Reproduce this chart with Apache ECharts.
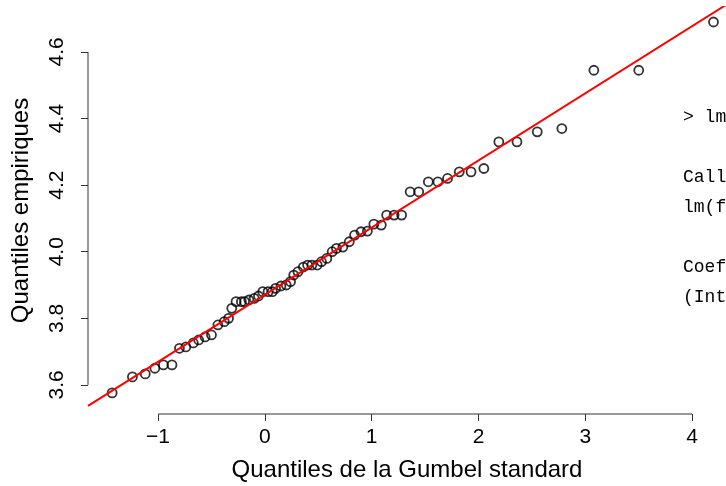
<!DOCTYPE html>
<html><head><meta charset="utf-8">
<script src="https://cdn.jsdelivr.net/npm/echarts@6/dist/echarts.min.js"></script>
<style>html,body{margin:0;padding:0;background:#fff}#c{width:726px;height:486px}</style>
</head><body><div id="c"></div>
<script>
const gumbelQ = [-1.43,-1.24,-1.12,-1.03,-0.95,-0.87,-0.80,-0.74,-0.67,-0.62,-0.56,-0.50,-0.44,-0.38,-0.34,-0.31,-0.27,-0.22,-0.19,-0.15,-0.10,-0.06,-0.02,0.03,0.07,0.10,0.15,0.20,0.24,0.27,0.31,0.36,0.40,0.44,0.49,0.53,0.58,0.63,0.67,0.73,0.79,0.84,0.90,0.96,1.02,1.09,1.14,1.21,1.28,1.36,1.44,1.53,1.62,1.71,1.82,1.93,2.05,2.19,2.36,2.55,2.78,3.08,3.50,4.20];
const empQ = [3.576,3.624,3.633,3.65,3.66,3.66,3.71,3.714,3.726,3.735,3.744,3.75,3.78,3.79,3.80,3.83,3.85,3.85,3.85,3.855,3.86,3.867,3.88,3.88,3.88,3.89,3.897,3.90,3.91,3.93,3.94,3.954,3.96,3.96,3.96,3.97,3.98,4.00,4.01,4.014,4.03,4.05,4.06,4.062,4.083,4.08,4.11,4.11,4.11,4.18,4.18,4.21,4.21,4.22,4.24,4.24,4.25,4.33,4.33,4.36,4.37,4.545,4.545,4.69];
const xTicks = [-1,0,1,2,3,4];
const yTicks = [3.6,3.8,4.0,4.2,4.4,4.6];
const fitCoef = [3.871, 0.2016]; // intercept, slope
const consoleLines = ["> lm(formula = y ~ x)", "", "Call:", "lm(formula = y ~ x)", "", "Coefficients:", "(Intercept)            x"];

const X_MIN = -1.656, X_MAX = 4.317, Y_MIN = 3.5126, Y_MAX = 4.735;
const pts = gumbelQ.map((x,i)=>[x, empQ[i]]);
const fitLine = [X_MIN, X_MAX].map(x=>[x, fitCoef[0] + fitCoef[1]*x]);
const FONT = '"Liberation Sans", Arial, sans-serif';
const AX = '#333';
const chart = echarts.init(document.getElementById('c'));
chart.setOption({
  animation:false,
  backgroundColor:'#fff',
  grid:{left:88,right:0,top:7,bottom:72,containLabel:false,outerBoundsMode:'none'},
  xAxis:{type:'value',min:X_MIN,max:X_MAX,
    name:'Quantiles de la Gumbel standard',nameLocation:'middle',nameGap:44,
    nameTextStyle:{fontFamily:FONT,fontSize:24,color:'#000'},
    axisLine:{show:false,onZero:false},splitLine:{show:false},
    axisTick:{show:true,length:7,customValues:xTicks,lineStyle:{color:AX,width:1}},
    axisLabel:{customValues:xTicks,margin:13,fontFamily:FONT,fontSize:21,color:'#000',
      formatter:v=>String(v).replace('-','\u2212')}},
  yAxis:{type:'value',min:Y_MIN,max:Y_MAX,
    name:'Quantiles empiriques',nameLocation:'middle',nameGap:55,
    nameTextStyle:{fontFamily:FONT,fontSize:24,color:'#000'},
    axisLine:{show:false,onZero:false},splitLine:{show:false},
    axisTick:{show:true,length:7,customValues:yTicks,lineStyle:{color:AX,width:1}},
    axisLabel:{customValues:yTicks,rotate:90,margin:20,fontFamily:FONT,fontSize:21,color:'#000',
      formatter:v=>v.toFixed(1)}},
  series:[
    {type:'line',data:[[xTicks[0],Y_MIN],[xTicks[xTicks.length-1],Y_MIN]],clip:false,symbol:'none',silent:true,
      lineStyle:{color:AX,width:1}},
    {type:'line',data:[[X_MIN,yTicks[0]],[X_MIN,yTicks[yTicks.length-1]]],clip:false,symbol:'none',silent:true,
      lineStyle:{color:AX,width:1}},
    {type:'scatter',data:pts,symbol:'circle',symbolSize:9,
      itemStyle:{color:'rgba(255,255,255,0)',borderColor:'#000',borderWidth:1.8}},
    {type:'line',data:fitLine,symbol:'none',clip:true,lineStyle:{color:'#ff0000',width:2}}
  ],
  graphic: consoleLines.map((t,i)=>({type:'text',left:683,top:108+i*30,
    style:{text:t,font:'18px "Liberation Mono", "Courier New", monospace',fill:'#000'}}))
});
</script></body></html>
